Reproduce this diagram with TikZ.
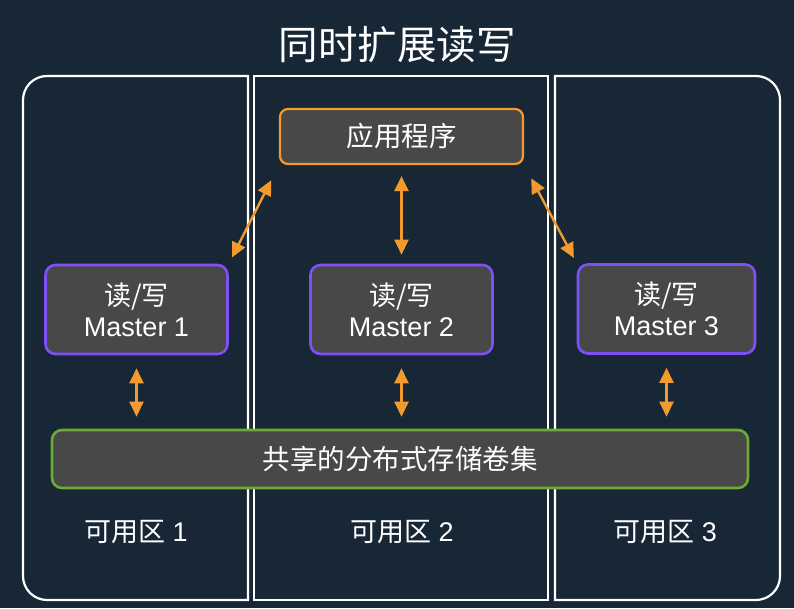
\documentclass[tikz,border=0pt]{standalone}
\usepackage{fontspec}
\setmainfont{Liberation Sans}
\newfontfamily\cjk{Noto Sans CJK SC}
\usetikzlibrary{arrows.meta}
\usetikzlibrary{positioning}

\definecolor{bgnavy}{HTML}{172736}
\definecolor{boxgray}{HTML}{484848}
\definecolor{apporange}{HTML}{F29A2E}
\definecolor{masterpurple}{HTML}{7E50F5}
\definecolor{storegreen}{HTML}{6CAA36}

\tikzset{
  zoneline/.style={draw=white, line width=2.2pt},
  appbox/.style={draw=apporange, fill=boxgray, line width=2.2pt, rounded corners=8pt,
    minimum width=243pt, minimum height=55pt, text=white, font=\cjk\fontsize{27.5}{30}\selectfont},
  masterbox/.style={draw=masterpurple, fill=boxgray, line width=2.6pt, rounded corners=10pt,
    minimum width=182pt, minimum height=89pt, text=white, align=center,
    font=\fontsize{27}{31}\selectfont},
  storebox/.style={draw=storegreen, fill=boxgray, line width=2.6pt, rounded corners=10pt,
    minimum width=696pt, minimum height=58pt, text=white, font=\cjk\fontsize{27.5}{30}\selectfont},
  zonelabel/.style={text=white, font=\fontsize{27}{30}\selectfont},
  biarrow/.style={draw=apporange, line width=2.4pt,
    {Triangle[length=15pt,width=14pt]}-{Triangle[length=15pt,width=14pt]}}
}

\begin{document}
\begin{tikzpicture}[x=1pt, y=-1pt]
  % 背景
  \fill[bgnavy] (0,0) rectangle (794,608);
  \useasboundingbox (0,0) rectangle (794,608);

  % 标题
  \node[text=white, font=\cjk\fontsize{39.5}{44}\selectfont] (title) at (397,45) {同时扩展读写};

  % 可用区
  \draw[zoneline] (135,76) [rounded corners=24pt] -- (23,76) -- (23,600) -- (135,600)
    [sharp corners] -- (248,600) -- (248,76) -- cycle;
  \draw[zoneline] (254,76) rectangle (548,600);
  \draw[zoneline] (668,76) [rounded corners=24pt] -- (780,76) -- (780,600) -- (668,600)
    [sharp corners] -- (555,600) -- (555,76) -- cycle;

  % 节点
  \node[appbox] (app) at (401.5,136.5) {应用程序};
  \node[masterbox] (m1) at (136.5,309.5) {{\cjk 读/写}\\Master 1};
  \node[masterbox] (m2) at (401.5,309.5) {{\cjk 读/写}\\Master 2};
  \node[masterbox, minimum width=177pt] (m3) at (666.5,309) {{\cjk 读/写}\\Master 3};
  \node[storebox] (store) at (400,459) {共享的分布式存储卷集};

  \node[zonelabel] (z1) at (136,532) {{\cjk 可用区} 1};
  \node[zonelabel] (z2) at (402,532) {{\cjk 可用区} 2};
  \node[zonelabel] (z3) at (665,532) {{\cjk 可用区} 3};

  % 箭头
  \draw[biarrow, shorten <=7pt, shorten >=17pt] (m1.north east) -- (app.south west);
  \draw[biarrow, shorten <=11pt, shorten >=9pt] (app.south) -- (m2.north);
  \draw[biarrow, shorten <=15pt, shorten >=6pt] (app.south east) -- (m3.north west);
  \foreach \m in {m1,m2,m3}
    \draw[biarrow, shorten <=13pt, shorten >=12pt] (\m.south) -- (\m.south |- store.north);
\end{tikzpicture}
\end{document}
